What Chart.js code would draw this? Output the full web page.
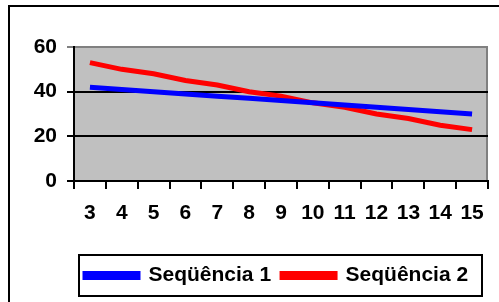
<!DOCTYPE html>
<html>
<head>
<meta charset="utf-8">
<script src="https://cdn.jsdelivr.net/npm/chart.js@4.4.1/dist/chart.umd.min.js"></script>
<style>
  html, body { margin: 0; padding: 0; background: #fff; overflow: hidden; }
  #wrap { position: relative; width: 499px; height: 302px; }
  #frame { position: absolute; left: 8px; top: 5px; width: 600px; height: 400px; border: 2px solid #000; pointer-events: none; }
</style>
</head>
<body>
<div id="wrap">
  <canvas id="chart" width="499" height="302"></canvas>
  <div id="frame"></div>
</div>
<script>
const categories = ["3", "4", "5", "6", "7", "8", "9", "10", "11", "12", "13", "14", "15"];
const seq1 = [42, 41, 40, 39, 38, 37, 36, 35, 34, 33, 32, 31, 30];
const seq2 = [53, 50, 48, 45, 43, 40, 38, 35, 33, 30, 28, 25, 23];
const seriesNames = ["Seqüência 1", "Seqüência 2"];
const yTicks = [0, 20, 40, 60];

const font = { family: "'Liberation Sans', Arial, sans-serif", size: 21, weight: "bold" };

// gray plot background + gray right edge, and the legend box
const plotBg = {
  id: "plotBg",
  beforeDraw(chart) {
    const { ctx, chartArea: a } = chart;
    ctx.save();
    ctx.fillStyle = "#c0c0c0";
    ctx.fillRect(a.left, a.top, a.right - a.left, a.bottom - a.top);
    ctx.strokeStyle = "#808080";
    ctx.lineWidth = 2;
    ctx.beginPath();
    ctx.moveTo(a.right - 1, a.top);
    ctx.lineTo(a.right - 1, a.bottom);
    ctx.stroke();
    ctx.restore();
  },
  afterDraw(chart) {
    const l = chart.legend;
    const ctx = chart.ctx;
    ctx.save();
    ctx.strokeStyle = "#000";
    ctx.lineWidth = 2;
    ctx.strokeRect(l.left + 5, l.top + 1, l.right - l.left - 11, l.bottom - l.top - 1);
    ctx.restore();
  }
};

new Chart(document.getElementById("chart").getContext("2d"), {
  type: "line",
  data: {
    labels: categories,
    datasets: [
      { label: seriesNames[0], data: seq1, borderColor: "#0000ff", backgroundColor: "#0000ff", borderWidth: 5, pointRadius: 0, tension: 0 },
      { label: seriesNames[1], data: seq2, borderColor: "#ff0000", backgroundColor: "#ff0000", borderWidth: 5, pointRadius: 0, tension: 0 }
    ]
  },
  options: {
    responsive: false,
    animation: false,
    layout: { padding: { top: 47, right: 11, bottom: 6, left: 0 } },
    plugins: {
      tooltip: { enabled: false },
      legend: {
        position: "bottom",
        fullSize: false,
        align: "start",
        labels: { font: font, color: "#000", boxWidth: 53, boxHeight: 4, padding: 11 }
      }
    },
    scales: {
      x: {
        offset: true,
        grid: { offset: true, drawOnChartArea: false, color: "#000", lineWidth: 2, tickLength: 8 },
        border: { color: "#000", width: 2 },
        ticks: { font: font, color: "#000", padding: 12, maxRotation: 0, autoSkip: false },
        afterFit(scale) { scale.height = 73; }
      },
      y: {
        min: yTicks[0],
        max: yTicks[yTicks.length - 1],
        afterBuildTicks(scale) { scale.ticks = yTicks.map(v => ({ value: v })); },
        grid: {
          color: c => (c.tick && c.tick.value === 60 ? "#808080" : "#000"),
          lineWidth: 2,
          tickLength: 7
        },
        border: { color: "#000", width: 2 },
        ticks: { font: font, color: "#000", padding: 10 },
        afterFit(scale) { scale.width = 74; }
      }
    }
  },
  plugins: [plotBg]
});
</script>
</body>
</html>
